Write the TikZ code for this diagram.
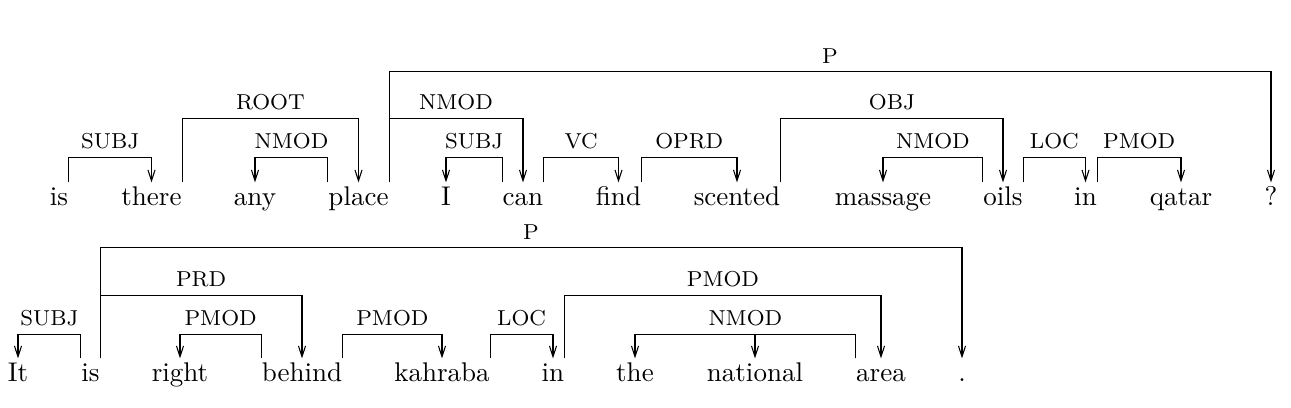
\documentclass[tikz,border=0pt]{standalone}
\usetikzlibrary{arrows.meta}
\begin{document}
\begin{tikzpicture}[x=0.37pt,y=-0.37pt,
        word/.style={anchor=base,inner sep=0pt,text height=8.5pt,text depth=0pt},
        dep/.style={black,-{Straight Barb[length=4pt,width=2.6pt]}},
        lbl/.style={font=\footnotesize,inner sep=0pt,above=2.8pt}]
        \useasboundingbox (0,0) rectangle (1291,408);
        % first sentence
        \node [word] (is) at (59,206) {is};
        \node [word] (there) at (151.5,206) {there};
        \node [word] (any) at (255,206) {any};
        \node [word] (place) at (358.5,206) {place};
        \node [word] (i) at (446,206) {I};
        \node [word] (can) at (523,206) {can};
        \node [word] (find) at (618.5,206) {find};
        \node [word] (scented) at (737,206) {scented};
        \node [word] (massage) at (883,206) {massage};
        \node [word] (oils) at (1003,206) {oils};
        \node [word] (in) at (1085.5,206) {in};
        \node [word] (qatar) at (1181,206) {qatar};
        \node [word] (quest) at (1271,206) {?};
        \draw [dep] (is.north east) -- ++(0,-25) -| node [lbl,pos=0.25] {SUBJ} (there.north);
        \draw [dep] (there.north east) -- ++(0,-64) -| node [lbl,pos=0.25] {ROOT} (place.north);
        \draw [dep] (place.north west) -- ++(0,-25) -| node [lbl,pos=0.25] {NMOD} (any.north);
        \draw [dep] (place.north east) -- ++(0,-111) -| node [lbl,pos=0.25] {P} (quest.north);
        \draw [dep] (place.north east) -- ++(0,-64) -| node [lbl,pos=0.25] {NMOD} (can.north);
        \draw [dep] (can.north west) -- ++(0,-25) -| node [lbl,pos=0.25] {SUBJ} (i.north);
        \draw [dep] (can.north east) -- ++(0,-25) -| node [lbl,pos=0.25] {VC} (find.north);
        \draw [dep] (find.north east) -- ++(0,-25) -| node [lbl,pos=0.25] {OPRD} (scented.north);
        \draw [dep] (scented.north east) -- ++(0,-64) -| node [lbl,pos=0.25] {OBJ} (oils.north);
        \draw [dep] (oils.north west) -- ++(0,-25) -| node [lbl,pos=0.25] {NMOD} (massage.north);
        \draw [dep] (oils.north east) -- ++(0,-25) -| node [lbl,pos=0.25] {LOC} (in.north);
        \draw [dep] (in.north east) -- ++(0,-25) -| node [lbl,pos=0.25] {PMOD} (qatar.north);
        % second sentence
        \node [word] (it) at (18,382) {It};
        \node [word] (is2) at (90.5,382) {is};
        \node [word] (right) at (180,382) {right};
        \node [word] (behind) at (302,382) {behind};
        \node [word] (kahraba) at (442,382) {kahraba};
        \node [word] (in2) at (553,382) {in};
        \node [word] (the) at (635,382) {the};
        \node [word] (national) at (755,382) {national};
        \node [word] (area) at (881,382) {area};
        \node [word] (dot) at (962,382) {.};
        \draw [dep] (is2.north west) -- ++(0,-24) -| node [lbl,pos=0.25] {SUBJ} (it.north);
        \draw [dep] (is2.north east) -- ++(0,-111) -| node [lbl,pos=0.25] {P} (dot.north);
        \draw [dep] (is2.north east) -- ++(0,-63) -| node [lbl,pos=0.25] {PRD} (behind.north);
        \draw [dep] (behind.north west) -- ++(0,-24) -| node [lbl,pos=0.25] {PMOD} (right.north);
        \draw [dep] (behind.north east) -- ++(0,-24) -| node [lbl,pos=0.25] {PMOD} (kahraba.north);
        \draw [dep] (kahraba.north east) -- ++(0,-24) -| node [lbl,pos=0.25] {LOC} (in2.north);
        \draw [dep] (in2.north east) -- ++(0,-63) -| node [lbl,pos=0.25] {PMOD} (area.north);
        \draw [dep] (area.north west) -- ++(0,-24) -| node [lbl,pos=0.25] {NMOD} (the.north);
        \draw [dep] (area.north west) -- ++(0,-24) -| (national.north);
\end{tikzpicture}
\end{document}
